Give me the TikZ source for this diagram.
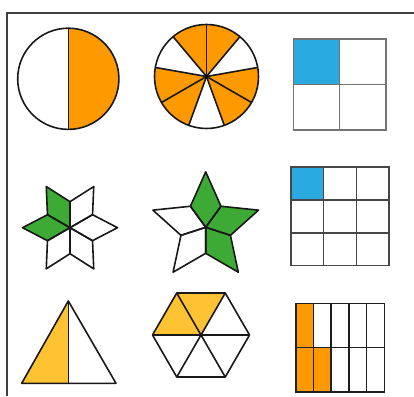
\documentclass[tikz,border=0pt]{standalone}
\definecolor{orng}{HTML}{FF9900}
\definecolor{skyb}{HTML}{29ABE2}
\definecolor{grn}{HTML}{3DAA35}
\definecolor{ylw}{HTML}{FFC233}
\begin{document}
\begin{tikzpicture}[x=1pt,y=1pt,
  outl/.style={draw=black!90,line width=1.6pt,line join=round},
  gridg/.style={draw=black!55,line width=1.6pt},
  gridd/.style={draw=black!72,line width=1.6pt},
  gridk/.style={draw=black!88,line width=1.6pt}]
\useasboundingbox (0,0) rectangle (414,396);
\draw[line width=1.4pt,black!75] (7,0) -- (7,383) -- (414,383);

% half circle
\begin{scope}[shift={(68.3,317.2)}]
\fill[orng] (90:50.6) arc (90:-90:50.6) -- cycle;
\draw[outl] (0,0) circle (50.6);
\draw[outl] (90:50.6) -- (-90:50.6);
\end{scope}

% nine-sector circle
\begin{scope}[shift={(206.5,319.5)}]
\foreach \a in {50,90,170,210,290,330}
  \fill[orng] (0,0) -- (\a:52) arc (\a:\a+40:52) -- cycle;
\foreach \a in {10,50,...,330}
  \draw[outl] (0,0) -- (\a:52);
\draw[outl] (0,0) circle (52);
\fill (0,0) circle (1.8);
\end{scope}

% 2x2 grid
\fill[skyb] (293.3,311.35) rectangle (339.5,356.7);
\draw[gridg] (293.3,266) rectangle (385.7,356.7);
\draw[gridg] (339.5,266) -- (339.5,356.7);
\draw[gridg] (293.3,311.35) -- (385.7,311.35);

% six-pointed star
\begin{scope}[shift={(70,168.3)}]
\foreach \a in {120,180}
  \fill[grn] (0,0) -- (\a-30:26) -- (\a:47.5) -- (\a+30:26) -- cycle;
\foreach \a in {0,60,...,300}
  \draw[outl] (0,0) -- (\a-30:26) -- (\a:47.5) -- (\a+30:26) -- cycle;
\end{scope}

% five-pointed star
\begin{scope}[shift={(205.7,168.7)}]
\foreach \a in {90,18,-54}
  \fill[grn] (0,0) -- (\a-36:26) -- (\a:55.5) -- (\a+36:26) -- cycle;
\foreach \a in {90,18,-54,-126,162}
  \draw[outl] (0,0) -- (\a-36:26) -- (\a:55.5) -- (\a+36:26) -- cycle;
\end{scope}

% 3x3 grid
\fill[skyb] (291,195.9) rectangle (323.67,228.7);
\draw[gridd] (291,130.3) rectangle (389,228.7);
\draw[gridd] (323.67,130.3) -- (323.67,228.7);
\draw[gridd] (356.33,130.3) -- (356.33,228.7);
\draw[gridd] (291,163.1) -- (389,163.1);
\draw[gridd] (291,195.9) -- (389,195.9);

% triangle
\fill[ylw] (68.3,95) -- (21.7,12.7) -- (68.3,12.7) -- cycle;
\draw[outl] (68.3,95) -- (21.7,12.7) -- (116,12.7) -- cycle;
\draw[outl] (68.3,95) -- (68.3,12.7);

% hexagon
\begin{scope}[shift={(201,61)}]
\foreach \a in {60,120}
  \fill[ylw] (0,0) -- (\a:48.5) -- (\a+60:48.5) -- cycle;
\draw[outl] (0:48.5) \foreach \a in {60,120,...,300} { -- (\a:48.5) } -- cycle;
\foreach \a in {0,60,...,300}
  \draw[outl] (0,0) -- (\a:48.5);
\end{scope}

% 5x2 rectangle
\fill[orng] (295.7,4.3) rectangle (313.42,92.7);
\fill[orng] (313.42,4.3) rectangle (331.14,48.5);
\draw[gridk] (295.7,4.3) rectangle (384.3,92.7);
\foreach \x in {313.42,331.14,348.86,366.58}
  \draw[gridk] (\x,4.3) -- (\x,92.7);
\draw[gridk] (295.7,48.5) -- (384.3,48.5);
\end{tikzpicture}
\end{document}
